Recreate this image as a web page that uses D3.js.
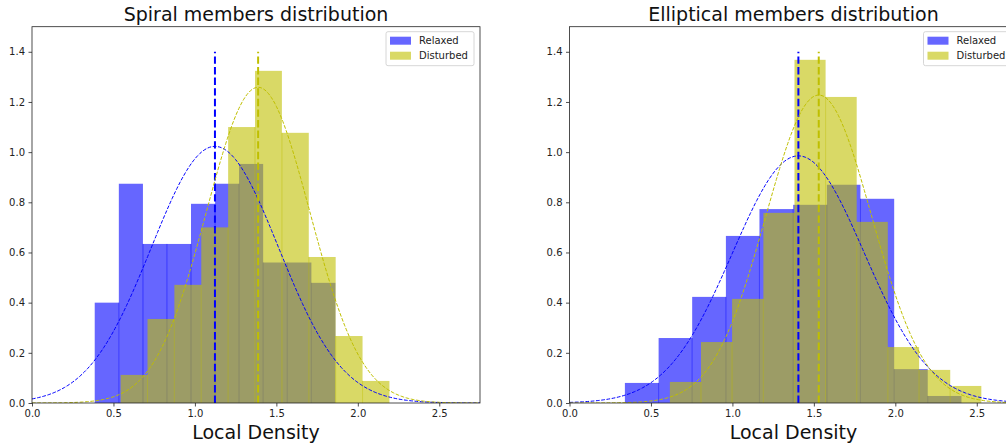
<!DOCTYPE html>
<html>
<head>
<meta charset="utf-8">
<script src="https://cdn.jsdelivr.net/npm/d3@7"></script>
<style>
  body { margin: 0; background: #fff; }
  svg { display: block; font-family: "DejaVu Sans", sans-serif; }
  .tick text { font-size: 10px; fill: #222; }
  .title, .label { font-size: 19px; fill: #111; }
  .legend text { font-size: 10px; fill: #222; }
</style>
</head>
<body>
<svg width="1006" height="447"></svg>
<script>
// histogram bin edges and densities
const spiralRelaxedEdges = [0.385, 0.533, 0.681, 0.828, 0.976, 1.124, 1.271, 1.419, 1.567, 1.715, 1.862];
const spiralRelaxedValues = [0.40, 0.874, 0.634, 0.634, 0.794, 0.874, 0.953, 0.56, 0.56, 0.479];
const spiralDisturbedEdges = [0.544, 0.709, 0.874, 1.039, 1.204, 1.369, 1.534, 1.699, 1.864, 2.029, 2.194];
const spiralDisturbedValues = [0.112, 0.335, 0.471, 0.70, 1.10, 1.324, 1.077, 0.582, 0.267, 0.088];

const ellipRelaxedEdges = [0.340, 0.547, 0.753, 0.960, 1.166, 1.373, 1.580, 1.786, 1.993, 2.199, 2.406];
const ellipRelaxedValues = [0.08, 0.259, 0.423, 0.666, 0.773, 0.79, 0.87, 0.814, 0.135, 0.028];
const ellipDisturbedEdges = [0.616, 0.807, 0.998, 1.190, 1.381, 1.572, 1.763, 1.954, 2.146, 2.337, 2.528];
const ellipDisturbedValues = [0.084, 0.243, 0.415, 0.758, 1.368, 1.22, 0.722, 0.223, 0.132, 0.068];

// fitted normal parameters [mean, sigma]
const spiralRelaxedFit = [1.123, 0.390];
const spiralDisturbedFit = [1.388, 0.317];
const ellipRelaxedFit = [1.405, 0.405];
const ellipDisturbedFit = [1.530, 0.325];

const titles = ['Spiral members distribution', 'Elliptical members distribution'];
const seriesNames = ['Relaxed', 'Disturbed'];
const xTicks = [0, 0.5, 1.0, 1.5, 2.0, 2.5];
const yTicks = [0, 0.2, 0.4, 0.6, 0.8, 1.0, 1.2, 1.4];

const blue = '#0000ff';
const olive = '#bfbf00';

const svg = d3.select('svg');
const topY = 26.7, bottomY = 403, panelW = 448;

const panels = [
    { left: 32, title: titles[0], rel: [spiralRelaxedEdges, spiralRelaxedValues, spiralRelaxedFit],
      dis: [spiralDisturbedEdges, spiralDisturbedValues, spiralDisturbedFit] },
    { left: 569.5, title: titles[1], rel: [ellipRelaxedEdges, ellipRelaxedValues, ellipRelaxedFit],
      dis: [ellipDisturbedEdges, ellipDisturbedValues, ellipDisturbedFit] }
];

const pdf = (x, mu, s) => Math.exp(-0.5 * ((x - mu) / s) ** 2) / (s * Math.sqrt(2 * Math.PI));

panels.forEach(function(p, pi) {
    const h = bottomY - topY;
    const x = d3.scaleLinear().domain([0, 2.75]).range([0, panelW]);
    const y = d3.scaleLinear().domain([0, 1.5]).range([h, 0]);

    const chart = svg.append('g')
        .attr('transform', `translate(${p.left}, ${topY})`);

    const clipId = 'clip' + pi;
    chart.append('clipPath').attr('id', clipId)
        .append('rect').attr('width', panelW).attr('height', h);

    const plot = chart.append('g').attr('clip-path', `url(#${clipId})`);

    function bars(series, color) {
        const edges = series[0], vals = series[1];
        const bins = vals.map((v, i) => ({ x0: edges[i], x1: edges[i + 1], v: v }));
        plot.append('g').selectAll('rect')
            .data(bins)
            .enter()
            .append('rect')
            .attr('x', d => x(d.x0))
            .attr('y', d => y(d.v))
            .attr('width', d => x(d.x1) - x(d.x0))
            .attr('height', d => y(0) - y(d.v))
            .attr('fill', color)
            .attr('fill-opacity', 0.6);
        // faint seams between adjacent bars, like the original
        plot.append('g').selectAll('line')
            .data(bins.slice(1))
            .enter()
            .append('line')
            .attr('x1', d => x(d.x0)).attr('x2', d => x(d.x0))
            .attr('y1', (d, i) => y(Math.min(d.v, bins[i].v)))
            .attr('y2', y(0))
            .attr('stroke', color)
            .attr('stroke-opacity', 0.5)
            .attr('stroke-width', 1);
    }

    bars(p.rel, blue);
    bars(p.dis, olive);

    const xs = d3.range(0, 2.7501, 0.01);
    const line = d3.line().x(d => x(d[0])).y(d => y(d[1]));

    [[p.rel[2], blue], [p.dis[2], olive]].forEach(function(f) {
        const mu = f[0][0], s = f[0][1];
        plot.append('path')
            .datum(xs.map(v => [v, pdf(v, mu, s)]))
            .attr('d', line)
            .attr('fill', 'none')
            .attr('stroke', f[1])
            .attr('stroke-width', 1)
            .attr('stroke-dasharray', '3.7,1.6');

        plot.append('line')
            .attr('x1', x(mu)).attr('x2', x(mu))
            .attr('y1', y(0)).attr('y2', y(1.4))
            .attr('stroke', f[1])
            .attr('stroke-width', 2)
            .attr('stroke-dasharray', '7.4,3.2');
    });

    // axes
    chart.append('g')
        .attr('transform', `translate(0, ${h})`)
        .call(d3.axisBottom(x).tickValues(xTicks).tickFormat(d3.format('.1f')).tickSize(3.5).tickPadding(3.5))
        .call(g => g.select('.domain').remove());

    chart.append('g')
        .call(d3.axisLeft(y).tickValues(yTicks).tickFormat(d3.format('.1f')).tickSize(3.5).tickPadding(3.5))
        .call(g => g.select('.domain').remove());

    chart.selectAll('.tick line').attr('stroke', '#222').attr('stroke-width', 0.8);
    chart.selectAll('g').filter(function() { return this.hasAttribute('font-family'); })
        .attr('font-family', null).attr('font-size', null);

    chart.append('rect')
        .attr('width', panelW)
        .attr('height', h)
        .attr('fill', 'none')
        .attr('stroke', '#222')
        .attr('stroke-width', 0.8);

    chart.append('text')
        .attr('class', 'title')
        .attr('x', panelW / 2)
        .attr('y', -6)
        .attr('text-anchor', 'middle')
        .text(p.title);

    chart.append('text')
        .attr('class', 'label')
        .attr('x', panelW / 2)
        .attr('y', h + 36)
        .attr('text-anchor', 'middle')
        .text('Local Density');

    // legend
    const lg = chart.append('g')
        .attr('class', 'legend')
        .attr('transform', `translate(${panelW - 94}, 5)`);
    lg.append('rect')
        .attr('width', 88).attr('height', 34)
        .attr('rx', 2)
        .attr('fill', '#fff').attr('fill-opacity', 0.8)
        .attr('stroke', '#ccc').attr('stroke-width', 0.8);
    [blue, olive].forEach(function(c, i) {
        lg.append('rect')
            .attr('x', 4).attr('y', 5 + i * 15)
            .attr('width', 21).attr('height', 8)
            .attr('fill', c).attr('fill-opacity', 0.6);
        lg.append('text')
            .attr('x', 33).attr('y', 12.5 + i * 15)
            .text(seriesNames[i]);
    });
});
</script>
</body>
</html>
